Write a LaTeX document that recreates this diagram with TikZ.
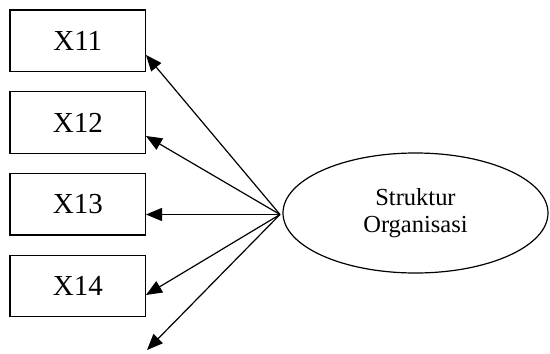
\documentclass[tikz,border=0pt]{standalone}
\usepackage{fontspec}
\setmainfont{Liberation Serif}
\usetikzlibrary{shapes.geometric,arrows.meta}
\begin{document}
\begin{tikzpicture}[x=1pt,y=-1pt,
  indicator/.style={draw,line width=1.2pt,minimum width=135.5pt,minimum height=61.5pt,inner sep=0pt,font=\fontsize{29}{32}\selectfont},
  construct/.style={draw,ellipse,line width=1.2pt,minimum width=265pt,minimum height=120pt,inner sep=0pt,align=center,font=\fontsize{24.5}{27.5}\selectfont},
  loading/.style={line width=1.2pt,-{Triangle[length=16pt,width=13pt]}}]
\useasboundingbox (0,0) rectangle (550,354);
\node[indicator] (x11) at (77.8,40.8) {X11};
\node[indicator] (x12) at (77.8,122.5) {X12};
\node[indicator] (x13) at (77.8,204.3) {X13};
\node[indicator] (x14) at (77.8,286) {X14};
\node[construct] (so) at (415.5,213) {Struktur\\Organisasi};
\coordinate (o) at (280,214.5);
\coordinate (t1) at (146,55);
\coordinate (t2) at (146,136);
\coordinate (t3) at (146,214.5);
\coordinate (t4) at (146,295);
\coordinate (t5) at (147,350);
\foreach \t in {t1,t2,t3,t4,t5}
  \draw[loading] (o) -- (\t);
\end{tikzpicture}
\end{document}
